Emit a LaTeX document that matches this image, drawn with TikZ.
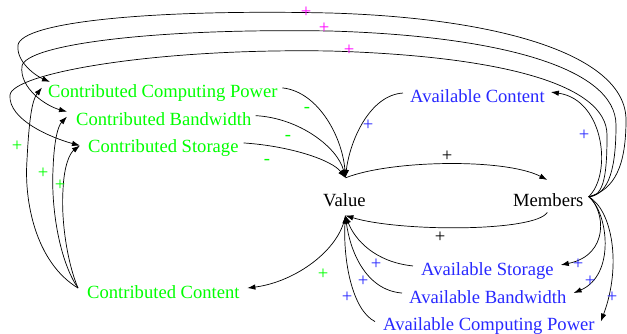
\documentclass[tikz,border=0pt]{standalone}
\usepackage{fontspec}
\setmainfont{Liberation Serif}
\usetikzlibrary{arrows.meta}
\definecolor{cgreen}{RGB}{0,255,0}
\definecolor{cblue}{RGB}{40,40,255}
\definecolor{cmag}{RGB}{255,0,255}
\begin{document}
\begin{tikzpicture}[x=1pt,y=-1pt,
  lbl/.style={inner sep=0pt, anchor=base west, font=\fontsize{18.6}{22}\selectfont},
  conn/.style={line width=0.7pt, -{Latex[length=8pt,width=5.5pt]}},
  sgn/.style={inner sep=0pt, font=\fontsize{18.6}{22}\selectfont}]
\useasboundingbox (0,0) rectangle (627,333);
% nodes
\node[lbl, text=cgreen] (ccp) at (48,97) {Contributed Computing Power};
\node[lbl, text=cgreen] (cb) at (76,125) {Contributed Bandwidth};
\node[lbl, text=cgreen] (cs) at (88,152) {Contributed Storage};
\node[lbl, text=cgreen] (cc) at (87,298) {Contributed Content};
\node[lbl] (value) at (323,206) {Value};
\node[lbl] (members) at (513,206) {Members};
\node[lbl, text=cblue] (ac) at (410,102) {Available Content};
\node[lbl, text=cblue] (as) at (421,275) {Available Storage};
\node[lbl, text=cblue] (ab) at (409,303) {Available Bandwidth};
\node[lbl, text=cblue] (acp) at (383,330) {Available Computing Power};
% ports
\coordinate (vT) at ([shift={(1,-15)}]value.north);
\coordinate (vB) at ([shift={(1,9)}]value.south);
\coordinate (mR) at ([shift={(5,-3)}]members.east);
\coordinate (mB) at ([shift={(-1,6)}]members.south);
\coordinate (mT) at ([shift={(-1,-13)}]members.north);
\coordinate (ccpE) at ([shift={(4.5,-4.7)}]ccp.east);
\coordinate (ccpNW) at ([shift={(2,-2)}]ccp.north west);
\coordinate (ccpW) at ([shift={(-6,-5)}]ccp.west);
\coordinate (cbE) at ([shift={(4,-3)}]cb.east);
\coordinate (cbL) at ([shift={(-9,-7)}]cb.west);
\coordinate (cbW) at ([shift={(-9,-2)}]cb.west);
\coordinate (csE) at ([shift={(5,-4.6)}]cs.east);
\coordinate (csW) at ([shift={(-8,-2)}]cs.west);
\coordinate (acW) at ([shift={(-7,-2.6)}]ac.west);
\coordinate (acE) at ([shift={(6,-3.6)}]ac.east);
\coordinate (asW) at ([shift={(-8,-4.6)}]as.west);
\coordinate (asE) at ([shift={(7,-5.6)}]as.east);
\coordinate (abW) at ([shift={(-7,-3.6)}]ab.west);
\coordinate (abE) at ([shift={(7,-3.6)}]ab.east);
\coordinate (acpW) at ([shift={(-8,-4)}]acp.west);
\coordinate (acpE) at ([shift={(6,-4)}]acp.east);
\coordinate (ccW) at ([shift={(-9,-3.6)}]cc.west);
\coordinate (ccE) at ([shift={(7.6,-3.6)}]cc.east);
% connectors into Value
\draw[conn] (ccpE) .. controls (320,92) and (343,140) .. (vT);
\draw[conn] (cbE) .. controls (300,118) and (338,148) .. (vT);
\draw[conn] (csE) .. controls (290,146) and (332,160) .. (vT);
\draw[conn] (acW) .. controls (370,95) and (350,140) .. (vT);
\draw[conn] (vT) .. controls (390,160) and (505,158) .. (mT);
\draw[conn] (mB) .. controls (535,232) and (400,232) .. (vB);
\draw[conn] (vB) .. controls (340,250) and (295,282) .. (ccE);
\draw[conn] (asW) .. controls (375,262) and (355,240) .. (vB);
\draw[conn] (abW) .. controls (365,290) and (350,250) .. (vB);
\draw[conn] (acpW) .. controls (352,310) and (343,260) .. (vB);
% Members outward
\draw[conn] (mR) .. controls (612,175) and (605,100) .. (acE);
\draw[conn] (mR) .. controls (605,210) and (610,255) .. (asE);
\draw[conn] (mR) .. controls (608,212) and (616,275) .. (abE);
\draw[conn] (mR) .. controls (612,210) and (622,265) .. (acpE);
% big loops
\draw[conn] (mR) .. controls (615,190) and (626,165) .. (626,120) .. controls (626,55) and (500,18) .. (330,13) .. controls (150,9) and (22,22) .. (18,45) .. controls (16,62) and (36,76) .. (ccpNW);
\draw[conn] (mR) .. controls (610,195) and (616,165) .. (616,125) .. controls (616,68) and (500,36) .. (330,31) .. controls (150,28) and (26,45) .. (22,66) .. controls (19,88) and (46,106) .. (cbL);
\draw[conn] (mR) .. controls (605,197) and (607,170) .. (607,135) .. controls (607,84) and (500,56) .. (330,51) .. controls (150,48) and (12,74) .. (10,95) .. controls (8,120) and (52,138) .. (csW);
% Contributed Content loops
\draw[conn] (ccW) .. controls (35,262) and (24,200) .. (27,160) .. controls (29,120) and (32,100) .. (ccpW);
\draw[conn] (ccW) .. controls (60,262) and (51,210) .. (53,170) .. controls (54,140) and (58,126) .. (cbW);
\draw[conn] (ccW) .. controls (67,262) and (61,220) .. (63,190) .. controls (64,165) and (70,153) .. (csW);
% signs
\node[sgn] (p1) at (447,156) {+};
\node[sgn] (p2) at (440,237) {+};
\node[sgn, text=cgreen] (m1) at (307,110) {-};
\node[sgn, text=cgreen] (m2) at (288,138) {-};
\node[sgn, text=cgreen] (m3) at (267,162) {-};
\node[sgn, text=cblue] (p3) at (368,125) {+};
\node[sgn, text=cblue] (p4) at (584,135) {+};
\node[sgn, text=cblue] (p5) at (376,264) {+};
\node[sgn, text=cblue] (p6) at (363,281) {+};
\node[sgn, text=cblue] (p7) at (347,297) {+};
\node[sgn, text=cblue] (p8) at (578,264) {+};
\node[sgn, text=cblue] (p9) at (590,281) {+};
\node[sgn, text=cblue] (p10) at (612,297) {+};
\node[sgn, text=cgreen] (p11) at (323,274) {+};
\node[sgn, text=cgreen] (p12) at (17,146) {+};
\node[sgn, text=cgreen] (p13) at (43,173) {+};
\node[sgn, text=cgreen] (p14) at (60,185) {+};
\node[sgn, text=cmag] (p15) at (306,12) {+};
\node[sgn, text=cmag] (p16) at (324,28) {+};
\node[sgn, text=cmag] (p17) at (349,50) {+};
\end{tikzpicture}
\end{document}
